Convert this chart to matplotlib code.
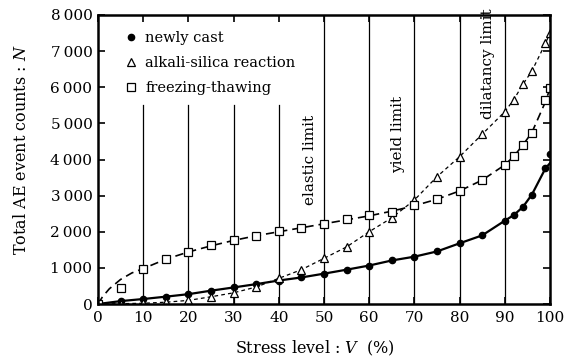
import numpy as np
import matplotlib
matplotlib.use('Agg')
import matplotlib.pyplot as plt

plt.rcParams['font.family'] = ['DejaVu Serif']
plt.rcParams['mathtext.fontset'] = 'dejavuserif'

# stress level (%) at which AE counts were read
stress = [0, 5, 10, 15, 20, 25, 30, 35, 40, 45, 50, 55, 60, 65, 70, 75, 80,
          85, 90, 92, 94, 96, 99, 100]
newly_cast = [0, 80, 138, 203, 272, 369, 458, 550, 650, 735, 840, 950, 1065,
              1205, 1310, 1455, 1680, 1900, 2306, 2463, 2685, 3030, 3756, 4143]
alkali = [0, 10, 20, 50, 100, 200, 310, 470, 710, 950, 1264, 1580, 2002,
          2385, 2879, 3524, 4078, 4700, 5323, 5660, 6080, 6450, 7216, 7500]
freeze = [0, 434, 965, 1236, 1448, 1624, 1771, 1882, 2010, 2095, 2225, 2344,
          2463, 2556, 2740, 2898, 3128, 3432, 3848, 4088, 4401, 4743, 5640, 5971]

# fitted curve for freezing-thawing
freeze_fit_x = [0, 1, 2.5, 5, 7.5, 10, 15, 20, 25, 30, 35, 40, 45, 50, 55, 60,
                65, 70, 75, 80, 85, 90, 92, 94, 96, 99, 100]
freeze_fit_y = [0, 200, 420, 680, 860, 980, 1240, 1440, 1610, 1760, 1890, 2000,
                2110, 2220, 2330, 2440, 2570, 2720, 2900, 3130, 3430, 3850,
                4090, 4400, 4750, 5600, 5970]

# end of the newly cast fit line
newly_fit_x = stress[:-1] + [100]
newly_fit_y = newly_cast[:-1] + [3900]

short_lines = [10, 20, 30, 40]
long_lines = [50, 60, 70, 80, 90]

yticks = [0, 1000, 2000, 3000, 4000, 5000, 6000, 7000, 8000]
ytick_labels = ['0', '1\u2009000', '2\u2009000', '3\u2009000', '4\u2009000',
                '5\u2009000', '6\u2009000', '7\u2009000', '8\u2009000']
xticks = [0, 10, 20, 30, 40, 50, 60, 70, 80, 90, 100]

fig = plt.figure(figsize=(5.77, 3.62), dpi=100)
ax = fig.add_axes([98 / 577, 1 - 304 / 362, 452 / 577, 289 / 362])

for x in short_lines:
    ax.plot([x, x], [0, 5500], color='black', lw=0.9)
for x in long_lines:
    ax.plot([x, x], [0, 8000], color='black', lw=0.9)

ax.plot(newly_fit_x, newly_fit_y, color='black', lw=1.6)
ax.plot(stress, alkali, color='black', lw=0.9, ls=(0, (3, 2.5)))
ax.plot(freeze_fit_x, freeze_fit_y, color='black', lw=1.2, ls=(0, (5, 3)))

ax.plot(stress, newly_cast, 'o', color='black', ms=4.5, label='newly cast')
ax.plot(stress, alkali, '^', mfc='white', mec='black', mew=0.9, ms=6,
        label='alkali-silica reaction')
ax.plot(stress, freeze, 's', mfc='white', mec='black', mew=0.9, ms=6,
        label='freezing-thawing')

ax.text(47, 4000, 'elastic limit', rotation=90, ha='center', va='center', fontsize=11)
ax.text(66.4, 4700, 'yield limit', rotation=90, ha='center', va='center', fontsize=11)
ax.text(86.3, 6650, 'dilatancy limit', rotation=90, ha='center', va='center', fontsize=11)

ax.set_xlim(0, 100)
ax.set_ylim(0, 8000)
ax.set_xticks(xticks)
ax.set_yticks(yticks)
ax.set_yticklabels(ytick_labels)
ax.tick_params(direction='in', length=5, width=1.2, labelsize=11,
               top=True, right=True, pad=4)
ax.tick_params(axis='x', pad=5)
for s in ax.spines.values():
    s.set_linewidth(1.8)

ax.legend(loc='upper left', frameon=False, fontsize=10.5, handletextpad=0.4,
          borderaxespad=0.3, labelspacing=0.75, handlelength=1.2,
          bbox_to_anchor=(0.03, 0.98))

fig.text(22 / 577, 1 - 150 / 362, 'Total AE event counts : $N$', rotation=90,
         ha='center', va='center', fontsize=11.5)
fig.text(315 / 577, 1 - 348 / 362, 'Stress level : $V$  (%)', ha='center',
         va='center', fontsize=11.5)

fig.savefig('out.png', dpi=100)
